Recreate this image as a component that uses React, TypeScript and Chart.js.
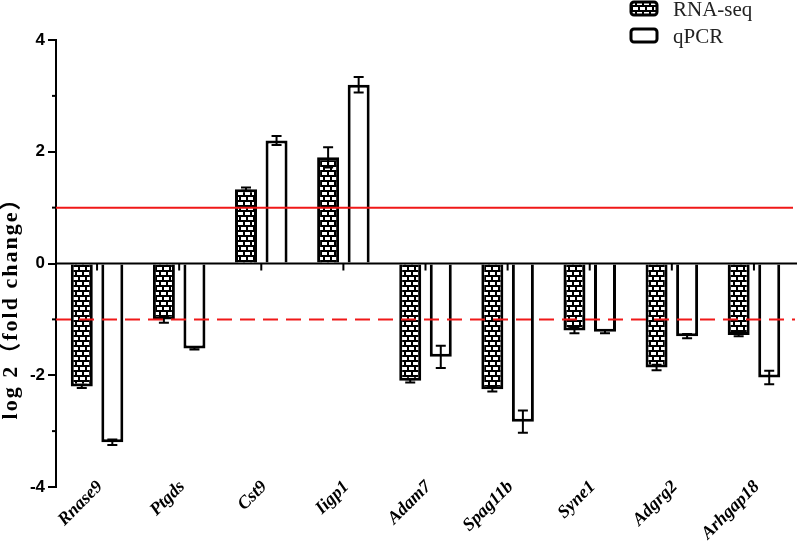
import React, { useEffect, useRef } from "react";
import { Chart, registerables } from "chart.js";

Chart.register(...registerables);

const categories = ["Rnase9", "Ptgds", "Cst9", "Iigp1", "Adam7", "Spag11b", "Syne1", "Adgrg2", "Arhgap18"];
const rnaSeq = [-2.2, -1.0, 1.33, 1.9, -2.1, -2.25, -1.2, -1.86, -1.28];
const rnaSeqErr = [0.03, 0.06, 0.03, 0.18, 0.03, 0.04, 0.05, 0.05, 0.02];
const qpcr = [-3.2, -1.52, 2.2, 3.2, -1.67, -2.83, -1.22, -1.3, -2.04];
const qpcrErr = [0.05, 0.02, 0.08, 0.14, 0.2, 0.2, 0.03, 0.04, 0.12];
const seriesNames = ["RNA-seq", "qPCR"];
const thresholds = [1, -1];
const yTitle = "log 2（fold change）";

function makeBrickPattern(): CanvasPattern | string {
  const c = document.createElement("canvas");
  c.width = 14;
  c.height = 10;
  const g = c.getContext("2d");
  if (!g) return "#000";
  g.fillStyle = "#fff";
  g.fillRect(0, 0, 14, 10);
  g.fillStyle = "#000";
  g.fillRect(0, 0, 14, 2);
  g.fillRect(0, 5, 14, 2);
  g.fillRect(5, 0, 2, 5);
  g.fillRect(12, 0, 2, 5);
  g.fillRect(1, 5, 2, 5);
  g.fillRect(8, 5, 2, 5);
  const p = g.createPattern(c, "repeat");
  return p || "#000";
}

export default function App() {
  const ref = useRef<HTMLCanvasElement>(null);

  useEffect(() => {
    if (!ref.current) return;
    const brick = makeBrickPattern();
    const errs = [rnaSeqErr, qpcrErr];

    const overlay = {
      id: "overlay",
      afterDatasetsDraw(chart: any) {
        const ctx = chart.ctx;
        const y = chart.scales.y;
        const x = chart.scales.x;
        const area = chart.chartArea;
        ctx.save();
        const y0 = y.getPixelForValue(0);
        ctx.strokeStyle = "#000";
        ctx.lineWidth = 2;
        ctx.beginPath();
        ctx.moveTo(area.left, y0);
        ctx.lineTo(797, y0);
        ctx.stroke();
        categories.forEach((_, i) => {
          const px = x.getPixelForValue(i);
          ctx.beginPath();
          ctx.moveTo(px, y0);
          ctx.lineTo(px, y0 + 7);
          ctx.stroke();
        });
        chart.data.datasets.forEach((ds: any, di: number) => {
          const meta = chart.getDatasetMeta(di);
          meta.data.forEach((el: any, i: number) => {
            const v = ds.data[i];
            const e = errs[di][i];
            const yTop = y.getPixelForValue(v + e);
            const yBot = y.getPixelForValue(v - e);
            ctx.strokeStyle = "#000";
            ctx.lineWidth = 2;
            ctx.beginPath();
            ctx.moveTo(el.x, yTop);
            ctx.lineTo(el.x, yBot);
            ctx.moveTo(el.x - 5, yTop);
            ctx.lineTo(el.x + 5, yTop);
            ctx.moveTo(el.x - 5, yBot);
            ctx.lineTo(el.x + 5, yBot);
            ctx.stroke();
          });
        });
        ctx.strokeStyle = "#f01818";
        ctx.lineWidth = 2;
        const yp = y.getPixelForValue(thresholds[0]);
        ctx.beginPath();
        ctx.moveTo(area.left, yp);
        ctx.lineTo(area.right - 2, yp);
        ctx.stroke();
        const yn = y.getPixelForValue(thresholds[1]);
        ctx.setLineDash([15, 8]);
        ctx.beginPath();
        ctx.moveTo(area.left, yn);
        ctx.lineTo(area.right, yn);
        ctx.stroke();
        ctx.setLineDash([]);
        ctx.strokeStyle = "#000";
        ctx.lineWidth = 2;
        [-3, -1, 1, 3].forEach((v) => {
          const py = y.getPixelForValue(v);
          ctx.beginPath();
          ctx.moveTo(area.left - 4, py);
          ctx.lineTo(area.left, py);
          ctx.stroke();
        });
        ctx.restore();
      },
      afterDraw(chart: any) {
        const ctx = chart.ctx;
        const x = chart.scales.x;
        const area = chart.chartArea;
        // category labels, rotated 45°
        ctx.save();
        ctx.fillStyle = "#000";
        ctx.font = "italic bold 18px 'Liberation Serif', serif";
        ctx.textAlign = "right";
        ctx.textBaseline = "middle";
        categories.forEach((lab, i) => {
          const px = x.getPixelForValue(i);
          ctx.save();
          ctx.translate(px + 3, area.bottom - 3);
          ctx.rotate(-Math.PI / 4);
          ctx.fillText(lab, 0, 0);
          ctx.restore();
        });
        ctx.restore();
        // y title
        ctx.save();
        ctx.translate(11, 303);
        ctx.rotate(-Math.PI / 2);
        ctx.font = "bold 22px 'Liberation Serif', 'Noto Sans CJK SC', serif";
        try { (ctx as any).letterSpacing = "2px"; } catch (e) {}
        ctx.fillStyle = "#000";
        ctx.textAlign = "center";
        ctx.textBaseline = "middle";
        ctx.fillText(yTitle, 0, 0);
        ctx.restore();
        // legend
        ctx.save();
        const items = [
          { fill: brick, y: 2 },
          { fill: "#fff", y: 29 },
        ];
        items.forEach((it, i) => {
          ctx.beginPath();
          const rx = 631, ry = it.y, w = 26, h = 13;
          if ((ctx as any).roundRect) (ctx as any).roundRect(rx, ry, w, h, 3);
          else ctx.rect(rx, ry, w, h);
          ctx.fillStyle = it.fill as any;
          ctx.fill();
          ctx.strokeStyle = "#000";
          ctx.lineWidth = 3;
          ctx.stroke();
          ctx.fillStyle = "#222";
          ctx.font = "21px 'Liberation Serif', serif";
          ctx.textAlign = "left";
          ctx.textBaseline = "middle";
          ctx.fillText(seriesNames[i], 673, it.y + 8);
        });
        ctx.restore();
      },
    };

    const chart = new Chart(ref.current, {
      type: "bar",
      data: {
        labels: categories,
        datasets: [
          {
            label: seriesNames[0],
            data: rnaSeq,
            backgroundColor: brick as any,
            borderColor: "#000",
            borderWidth: 3,
            borderSkipped: "start",
          },
          {
            label: seriesNames[1],
            data: qpcr,
            backgroundColor: "#fff",
            borderColor: "#000",
            borderWidth: 3,
            borderSkipped: "start",
          },
        ],
      },
      options: {
        responsive: false,
        animation: false,
        categoryPercentage: 0.744,
        barPercentage: 0.72,
        layout: { padding: { left: 0, right: 2, top: 40, bottom: 0 } },
        plugins: {
          legend: { display: false },
          tooltip: { enabled: false },
        },
        scales: {
          x: {
            grid: { display: false },
            border: { display: false },
            ticks: { display: false },
            afterFit(scale: any) {
              scale.height = 57;
            },
          },
          y: {
            min: -4,
            max: 4,
            ticks: {
              stepSize: 1,
              padding: 3,
              color: "#000",
              font: { family: "'Liberation Sans', Arial, sans-serif", size: 17, weight: "bold" },
              callback: (v: any) => (Number(v) % 2 === 0 ? String(v) : ""),
            },
            grid: {
              drawOnChartArea: false,
              lineWidth: 2,
              tickLength: 8,
              tickWidth: 2,
              tickColor: (c: any) => (c.tick && Number(c.tick.value) % 2 === 0 ? "#000" : "rgba(0,0,0,0)"),
            },
            border: { display: true, color: "#000", width: 2 },
            afterFit(scale: any) {
              scale.width = 56;
            },
          },
        },
      },
      plugins: [overlay],
    });
    return () => chart.destroy();
  }, []);

  return (
    <div style={{ position: "absolute", left: 0, top: 0, width: 797, height: 544, background: "#fff" }}>
      <canvas ref={ref} width={797} height={544} style={{ display: "block" }} />
    </div>
  );
}
